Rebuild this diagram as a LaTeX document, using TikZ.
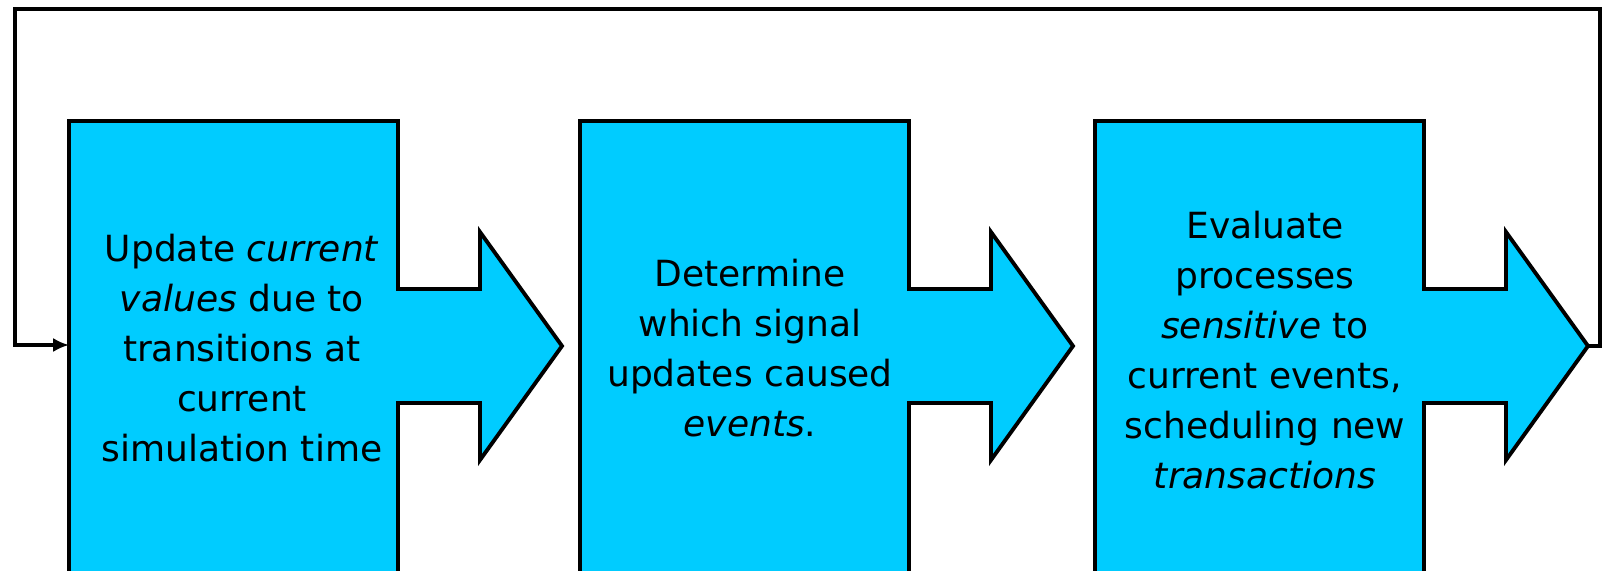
\documentclass[tikz,border=0pt]{standalone}
\usepackage{fontspec}
\setmainfont{DejaVu Sans}
\usetikzlibrary{arrows.meta}
\definecolor{stepcyan}{RGB}{0,204,255}
\def\blockarrow[#1](#2){\draw[#1] (#2,121) -- ++(329,0) -- ++(0,168) -- ++(82,0) -- ++(0,-57) -- ++(82,114) -- ++(-82,114) -- ++(0,-57) -- ++(-82,0) -- ++(0,190) -- ++(-329,0) -- cycle;}

\begin{document}
\begin{tikzpicture}[x=0.02cm, y=-0.02cm,
	stepshape/.style={draw=black, fill=stepcyan, line width=2.2pt, line join=miter},
	steptext/.style={align=center, inner sep=0pt, font=\fontsize{20.5}{28.4}\selectfont},
	loopline/.style={draw=black, line width=2.2pt, -{Latex[length=9pt,width=8pt]}}]
		%%%%% START %%%%%
		\useasboundingbox (0,0) rectangle (1605,571);
		\clip (0,0) rectangle (1605,571);
		
		\blockarrow[stepshape](69);
		\blockarrow[stepshape](580);
		\blockarrow[stepshape](1095);
		
		\coordinate (in1) at (69,345);
		\coordinate (tip3) at (1587,346);
		
		\node[steptext] (upd) at (242,348) {Update \textit{current}\\ \textit{values} due to\\ transitions at\\ current\\ simulation time};
		\node[steptext] (det) at (750,348) {Determine\\ which signal\\ updates caused\\ \textit{events}.};
		\node[steptext] (eval) at (1265,350) {Evaluate\\ processes\\ \textit{sensitive} to\\ current events,\\ scheduling new\\ \textit{transactions}};
		
		\draw[loopline] (tip3) -- ++(13,0) |- (15,9) |- (in1);
		
		%%%%% END %%%%%
	\end{tikzpicture}
\end{document}
